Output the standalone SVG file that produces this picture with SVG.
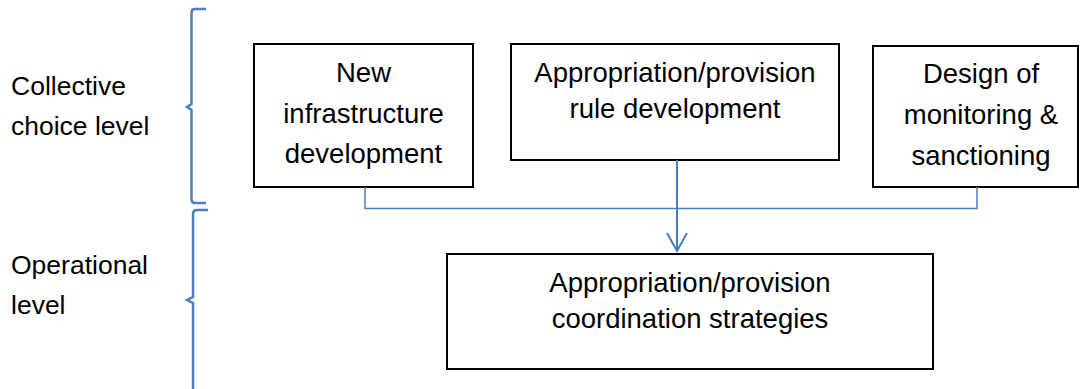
<svg xmlns="http://www.w3.org/2000/svg" width="1080" height="389" viewBox="0 0 1080 389">
<style>
.box{fill:#fff;stroke:#000;stroke-width:2}
.t{font-family:"Liberation Sans",Arial,sans-serif;font-size:27.5px;fill:#000}
.l{font-size:26.5px}
.c{text-anchor:middle}
.brace{fill:none;stroke:#4a7ebb;stroke-width:2.5}
.conn{fill:none;stroke:#4a7ebb;stroke-width:1.5}
.arrow{fill:none;stroke:#4a7ebb;stroke-width:2}
</style>
<g id="labels">
<text class="t l" x="11" y="95">Collective</text>
<text class="t l" x="11" y="135">choice level</text>
<text class="t l" x="11" y="274">Operational</text>
<text class="t l" x="11" y="314">level</text>
</g>
<g id="braces">
<path class="brace" d="M206,9 L195,9 Q191.5,9 191.5,13 L191.5,104 L187,107 L191.5,110 L191.5,199 Q191.5,203 195,203 L206,203"/>
<path class="brace" d="M208,210 L197,210 Q193,210 193,214 L193,297 L187,300 L193,303 L193,389"/>
</g>
<g id="node-new-infrastructure">
<rect class="box" x="254" y="44" width="219" height="143"/>
<text class="t c" x="363.5" y="82">New</text>
<text class="t c" x="363.5" y="123">infrastructure</text>
<text class="t c" x="363.5" y="163">development</text>
</g>
<g id="node-rule-development">
<rect class="box" x="511" y="44" width="328" height="116"/>
<text class="t c" x="675" y="82">Appropriation/provision</text>
<text class="t c" x="675" y="118">rule development</text>
</g>
<g id="node-monitoring">
<rect class="box" x="873" y="46" width="205" height="141"/>
<text class="t c" x="981" y="83">Design of</text>
<text class="t c" x="981" y="124">monitoring &amp;</text>
<text class="t c" x="981" y="165">sanctioning</text>
</g>
<g id="node-coordination">
<rect class="box" x="447" y="254" width="486" height="115"/>
<text class="t c" x="690" y="292">Appropriation/provision</text>
<text class="t c" x="690" y="328">coordination strategies</text>
</g>
<g id="connectors">
<path class="conn" d="M365,187 L365,208.5 L977,208.5 L977,187"/>
<path class="arrow" d="M677,160 L677,251"/>
<path class="arrow" d="M667,233 L677,251 L687,233"/>
</g>
</svg>
